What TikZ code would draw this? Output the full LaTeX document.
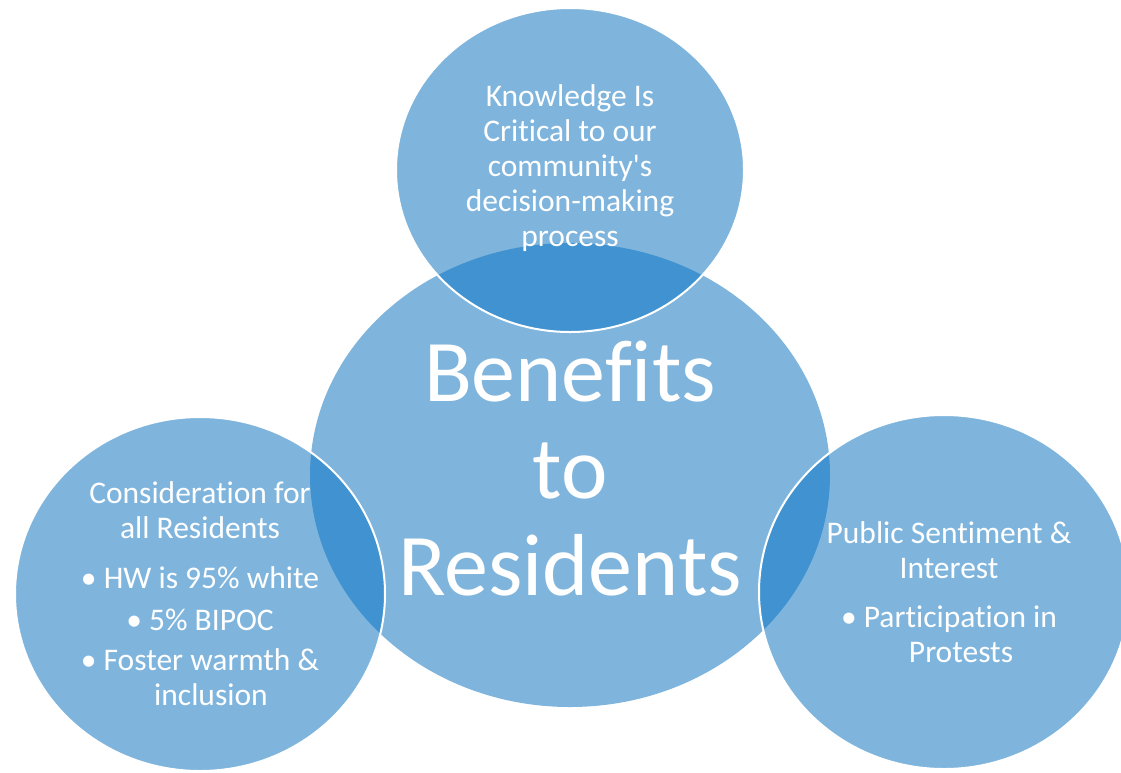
\documentclass[tikz,border=0pt]{standalone}
\usepackage{fontspec}
\setmainfont{Carlito}[Ligatures=NoCommon]
\usetikzlibrary{positioning}
\definecolor{vennlight}{RGB}{127,181,221}
\definecolor{venndark}{RGB}{64,147,208}

\begin{document}
\begin{tikzpicture}[x=1pt,y=-1pt,
    disc/.style={fill=vennlight},
    rim/.style={draw=white, line width=2pt},
    small/.style={text=white, align=center, inner sep=0pt, font=\fontsize{31.5}{35}\selectfont},
    big/.style={text=white, align=center, inner sep=0pt, font=\fontsize{88}{97}\selectfont}]
    \clip (0,0) rectangle (1121,772);
    \def\midc{(570,475) ellipse [x radius=260, y radius=232]}
    \def\topc{(570,170) ellipse [x radius=174, y radius=162]}
    \def\leftc{(200,594) ellipse [x radius=185, y radius=177]}
    \def\rightc{(944,592) ellipse [x radius=185, y radius=177]}
    % discs
    \fill[disc] \midc;
    \foreach \c in {\topc,\leftc,\rightc} {
    \fill[disc] \c;
    \begin{scope} \clip \c; \fill[venndark] \midc; \end{scope}
    \draw[rim] \c;
    }
    % texts
    \node[big] (hub) at (570,469) {Benefits\\to\\Residents};
    \node[small] (know) at (570,168) {Knowledge Is\\Critical to our\\community\textquotesingle s\\decision-making\\process};
    \node[small] (consider) at (200,594) {Consideration for\\all Residents\\[15pt]
        \textbullet\ HW is 95\% white\\[7pt]
        \textbullet\ 5\% BIPOC\\[5pt]
        \textbullet\ Foster warmth \&\\\hspace*{22pt}inclusion};
    \node[small] (public) at (949,592) {Public Sentiment \&\\Interest\\[14pt]
        \textbullet\ Participation in\\\hspace*{24pt}Protests};
\end{tikzpicture}
\end{document}
